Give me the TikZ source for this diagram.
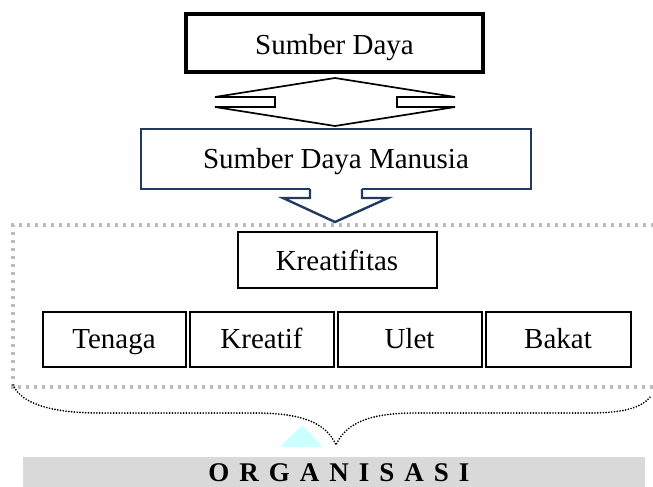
\documentclass[tikz,border=0pt]{standalone}
\usepackage{fontspec}
\setmainfont{Liberation Serif}
\usetikzlibrary{calc}
\definecolor{navy}{HTML}{223A5E}
\definecolor{dotgray}{HTML}{BBBBBB}
\definecolor{bandgray}{HTML}{D9D9D9}
\definecolor{cyanlt}{HTML}{CCFFFF}
\begin{document}
\begin{tikzpicture}[x=1pt,y=-1pt,
  txt/.style={font=\fontsize{29}{34}\selectfont, inner sep=0pt, text depth=0pt},
  smallbox/.style={txt, draw, line width=2pt, minimum width=#1, minimum height=55pt, text height=18pt}]
\useasboundingbox (0,0) rectangle (653,487);
% gray band
\fill[bandgray] (23,457) rectangle (645,492);
% top box
\node[txt, draw, line width=3.4pt, minimum width=297pt, minimum height=58pt, text height=24pt] (sd) at (334.5,43) {Sumber Daya};
% SDM box
\node[txt, draw=navy, line width=2.4pt, minimum width=390pt, minimum height=60pt, text height=18pt] (sdm) at (336,159) {Sumber Daya Manusia};
% double arrow
\draw[line width=1.7pt, fill=white, line join=miter]
  (335,78) -- (455,97) -- (397,97) -- (397,107) -- (455,107) -- (335,126)
  -- (215,107) -- (275,107) -- (275,97) -- (215,97) -- cycle;
% down arrow
\fill[white] (310,188) -- (310,198) -- (283,198) -- (335,222) -- (388,198) -- (362,198) -- (362,188) -- cycle;
\draw[navy, line width=2.4pt, line join=miter] (310,189) -- (310,198) -- (283,198) -- (335,222) -- (388,198) -- (362,198) -- (362,189);
% dotted frame
\draw[dotgray, line width=3.2pt, dash pattern=on 3.2pt off 4.8pt] (662,225) -- (13,225) -- (13,387) -- (662,387);
% inner boxes
\node[txt, draw, line width=2pt, minimum width=199pt, minimum height=56pt, text height=21pt] (kre) at (337,259.5) {Kreatifitas};
\node[smallbox=143pt] (ten) at (114,339) {Tenaga};
\node[smallbox=144pt] (kf) at (261.5,339) {Kreatif};
\node[smallbox=144pt] (ul) at (409.5,339) {Ulet};
\node[smallbox=145pt] (bk) at (558,339) {Bakat};
% brace
\draw[line width=1.9pt, line cap=round, dash pattern=on 0pt off 2.8pt]
  (13,385) .. controls (22,405) and (55,413) .. (100,413) -- (255,413)
  .. controls (300,413) and (326,422) .. (336,445)
  .. controls (346,422) and (372,413) .. (415,413) -- (590,413)
  .. controls (625,413) and (643,407) .. (651,396);
% cyan triangle
\fill[cyanlt, rounded corners=1.5pt] (302,425) -- (323,447) -- (280,447) -- cycle;
% label
\node[anchor=base, inner sep=0pt, font=\bfseries\fontsize{27}{30}\selectfont] (org) at (339,481) {\spaceskip=10pt O R G A N I S A S I};
\end{tikzpicture}
\end{document}
